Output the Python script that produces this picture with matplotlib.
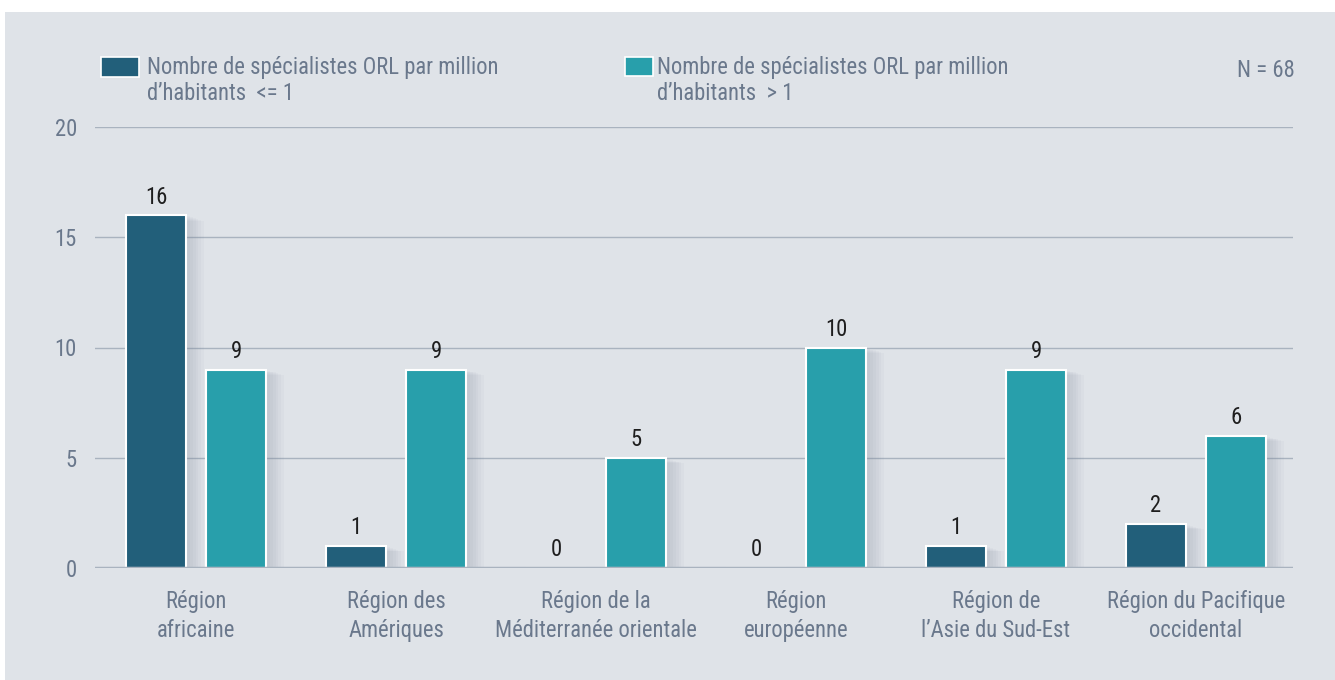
import numpy as np
import matplotlib
matplotlib.use('Agg')
import matplotlib.pyplot as plt
import matplotlib.patheffects as pe
from matplotlib.patches import Rectangle

plt.rcParams['font.family'] = ['Roboto Condensed', 'DejaVu Sans']

regions = ['Région\nafricaine', 'Région des\nAmériques', 'Région de la\nMéditerranée orientale',
           'Région\neuropéenne', 'Région de\nl\u2019Asie du Sud-Est', 'Région du Pacifique\noccidental']
faible = [16, 1, 0, 0, 1, 2]
eleve = [9, 9, 5, 10, 9, 6]
legende = ['Nombre de spécialistes ORL par million\nd\u2019habitants  <= 1',
           'Nombre de spécialistes ORL par million\nd\u2019habitants  > 1']
couleurs = ['#225f7a', '#289fab']
yticks = [0, 5, 10, 15, 20]

gris_txt = '#6a788c'
fond = '#dfe3e8'
fs = 16.3

fig = plt.figure(figsize=(13.35, 6.8), dpi=100)
fig.patches.append(Rectangle((5 / 1335, 0), 1, 1 - 12 / 680, transform=fig.transFigure,
                             facecolor=fond, edgecolor='none', zorder=-10))

ax = fig.add_axes([95 / 1335, 1 - 568 / 680, (1293 - 95) / 1335, (568 - 127) / 680])
ax.set_facecolor('none')
ax.set_xlim(-0.505, 5.485)
ax.set_ylim(0, 20)

for v in yticks[1:]:
    ax.axhline(v, color='#a9b3bf', lw=1, zorder=0)
ax.axhline(0, color='#a9b3bf', lw=2.5, zorder=3)

# ombre douce derrière les barres
ombre = [pe.SimplePatchShadow(offset=(d, -d * 0.3), shadow_rgbFace='#7d889a', alpha=0.05)
         for d in (1, 3, 5, 7, 9, 11, 13)] + [pe.Normal()]

x = np.arange(len(regions))
for serie, dx, c in [(faible, -0.2, couleurs[0]), (eleve, 0.2, couleurs[1])]:
    bars = ax.bar(x + dx, serie, width=0.3, color=c, edgecolor='white', linewidth=1.5, zorder=2)
    for b, v in zip(bars, serie):
        if v > 0:
            b.set_path_effects(ombre)
        ax.text(b.get_x() + b.get_width() / 2, v + 0.3, str(v), ha='center', va='bottom',
                fontsize=fs, color='#1e1e1e', zorder=4)

ax.set_yticks(yticks)
ax.set_yticklabels([str(t) for t in yticks], fontsize=fs, color=gris_txt)
ax.set_xticks(x)
ax.set_xticklabels(regions, fontsize=fs, color=gris_txt, linespacing=1.3)
ax.tick_params(axis='both', length=0)
ax.tick_params(axis='y', pad=13)
ax.tick_params(axis='x', pad=16)
for s in ax.spines.values():
    s.set_visible(False)

# légende
fig.patches.append(Rectangle((101 / 1335, 1 - 77 / 680), 38 / 1335, 20 / 680, transform=fig.transFigure,
                             facecolor=couleurs[0], edgecolor='white', lw=1.2))
fig.patches.append(Rectangle((625 / 1335, 1 - 76 / 680), 28 / 1335, 19 / 680, transform=fig.transFigure,
                             facecolor=couleurs[1], edgecolor='white', lw=1.2))
fig.text(147 / 1335, 1 - 56 / 680, legende[0], fontsize=fs, color=gris_txt, va='top', linespacing=1.18)
fig.text(657 / 1335, 1 - 56 / 680, legende[1], fontsize=fs, color=gris_txt, va='top', linespacing=1.18)
fig.text(1295 / 1335, 1 - 59 / 680, 'N = 68', fontsize=fs, color=gris_txt, va='top', ha='right')

fig.savefig('out.png', dpi=100)
